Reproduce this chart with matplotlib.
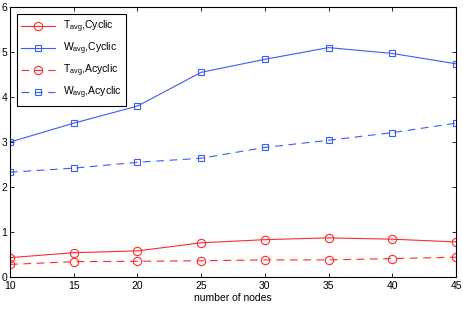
import matplotlib
matplotlib.use("Agg")
import matplotlib.pyplot as plt

# -------------------- DATA --------------------
nodes = [10, 15, 20, 25, 30, 35, 40, 45]
t_cyclic = [0.43, 0.54, 0.58, 0.76, 0.83, 0.87, 0.84, 0.78]
w_cyclic = [3.00, 3.42, 3.80, 4.55, 4.84, 5.10, 4.97, 4.74]
t_acyclic = [0.28, 0.34, 0.35, 0.36, 0.38, 0.38, 0.41, 0.44]
w_acyclic = [2.33, 2.42, 2.55, 2.64, 2.88, 3.04, 3.21, 3.42]

plt.rcParams['font.family'] = ['Liberation Sans', 'DejaVu Sans']
plt.rcParams['mathtext.default'] = 'regular'

red = '#ff2a2a'
blue = '#3a5cff'

# -------------------- PLOT --------------------
fig = plt.figure(figsize=(4.63, 3.10), dpi=100)
ax = fig.add_axes([0.0216, 0.1065, 0.9634, 0.8705])

ax.plot(nodes, t_cyclic, '-', color=red, lw=0.8, marker='o', ms=6,
        mfc='none', mec=red, mew=0.8, label='T$_{avg}$,Cyclic')
ax.plot(nodes, w_cyclic, '-', color=blue, lw=0.8, marker='s', ms=5,
        mfc='none', mec=blue, mew=0.8, label='W$_{avg}$,Cyclic')
ax.plot(nodes, t_acyclic, '--', color=red, lw=0.8, marker='o', ms=6,
        mfc='none', mec=red, mew=0.8, dashes=(7, 5), label='T$_{avg}$,Acyclic')
ax.plot(nodes, w_acyclic, '--', color=blue, lw=0.8, marker='s', ms=5,
        mfc='none', mec=blue, mew=0.8, dashes=(7, 5), label='W$_{avg}$,Acyclic')

ax.set_xlim(10, 45)
ax.set_ylim(0, 6)
ax.set_xticks(nodes)
ax.set_yticks(range(7))
ax.tick_params(direction='in', top=True, right=True, labelsize=7.5,
               length=3, width=0.6, pad=2)
ax.tick_params(axis='x', pad=3)
for s in ax.spines.values():
    s.set_linewidth(0.8)
ax.set_xlabel('number of nodes', fontsize=7.5, labelpad=1)

leg = ax.legend(loc='upper left', fontsize=7.5, fancybox=False,
                edgecolor='black', framealpha=1, handlelength=3.2,
                borderaxespad=0.7, labelspacing=0.55)
leg.get_frame().set_linewidth(0.8)

fig.savefig('out.png', dpi=100)
